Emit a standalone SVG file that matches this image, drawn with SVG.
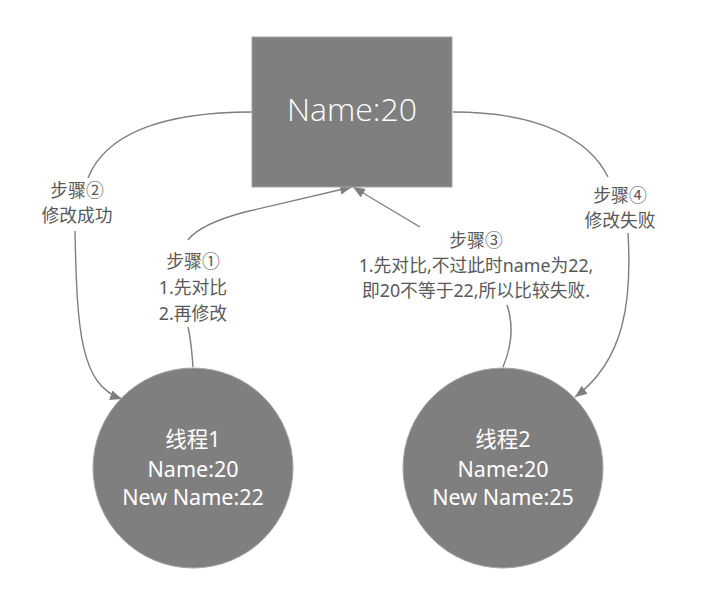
<svg xmlns="http://www.w3.org/2000/svg" width="703" height="589" viewBox="0 0 703 589">
<defs>
<marker id="arr" viewBox="0 0 12 10" refX="12" refY="5" markerWidth="12" markerHeight="10" markerUnits="userSpaceOnUse" orient="auto">
<path d="M0,0 L12,5 L0,10 Z" fill="#7f7f7f"/>
</marker>
<style>
.node{fill:#7f7f7f;stroke:#a6a6a6;stroke-width:1}
.big{font-family:"Open Sans","Noto Sans",sans-serif;font-weight:300;font-size:32px;fill:#ffffff;text-anchor:middle}
.nt{font-family:"Noto Sans","Noto Sans CJK SC",sans-serif;font-size:21.5px;fill:#ffffff;text-anchor:middle}
.edge{fill:none;stroke:#7f7f7f;stroke-width:1.4}
.lbl{font-family:"Noto Sans","Noto Sans CJK SC",sans-serif;font-size:17.8px;fill:#595959;text-anchor:middle}
</style>
</defs>
<rect width="703" height="589" fill="#ffffff"/>
<g id="connectors">
<path class="edge" d="M252,112 C160,112 105,135 88,178"/>
<path class="edge" d="M75,231 C77,330 80,385 122,399" marker-end="url(#arr)"/>
<path class="edge" d="M193,367 C192,352 191,340 188,327"/>
<path class="edge" d="M188,240 Q200,224 245,212 L352,187" marker-end="url(#arr)"/>
<path class="edge" d="M420,227 L353,187" marker-end="url(#arr)"/>
<path class="edge" d="M503,367 C510,350 515,328 507,305"/>
<path class="edge" d="M453,112 C540,112 590,140 608,177"/>
<path class="edge" d="M628,233 C632,300 625,360 575,397" marker-end="url(#arr)"/>
</g>
<g id="labels">
<text class="lbl" x="77" y="197">步骤②</text>
<text class="lbl" x="77" y="222">修改成功</text>
<text class="lbl" x="193" y="268">步骤①</text>
<text class="lbl" x="193" y="294">1.先对比</text>
<text class="lbl" x="193" y="320">2.再修改</text>
<text class="lbl" x="476" y="247">步骤③</text>
<text class="lbl" x="476" y="272">1.先对比,不过此时name为22,</text>
<text class="lbl" x="476" y="297">即20不等于22,所以比较失败.</text>
<text class="lbl" x="620" y="202">步骤④</text>
<text class="lbl" x="620" y="227">修改失败</text>
</g>
<g id="node-name">
<rect class="node" x="252" y="37" width="200" height="150"/>
<text class="big" x="352" y="121">Name:20</text>
</g>
<g id="node-thread1">
<circle class="node" cx="193" cy="468" r="100"/>
<text class="nt" x="193" y="447">线程1</text>
<text class="nt" x="193" y="477">Name:20</text>
<text class="nt" x="193" y="505">New Name:22</text>
</g>
<g id="node-thread2">
<circle class="node" cx="503" cy="468" r="100"/>
<text class="nt" x="503" y="447">线程2</text>
<text class="nt" x="503" y="477">Name:20</text>
<text class="nt" x="503" y="505">New Name:25</text>
</g>
</svg>
